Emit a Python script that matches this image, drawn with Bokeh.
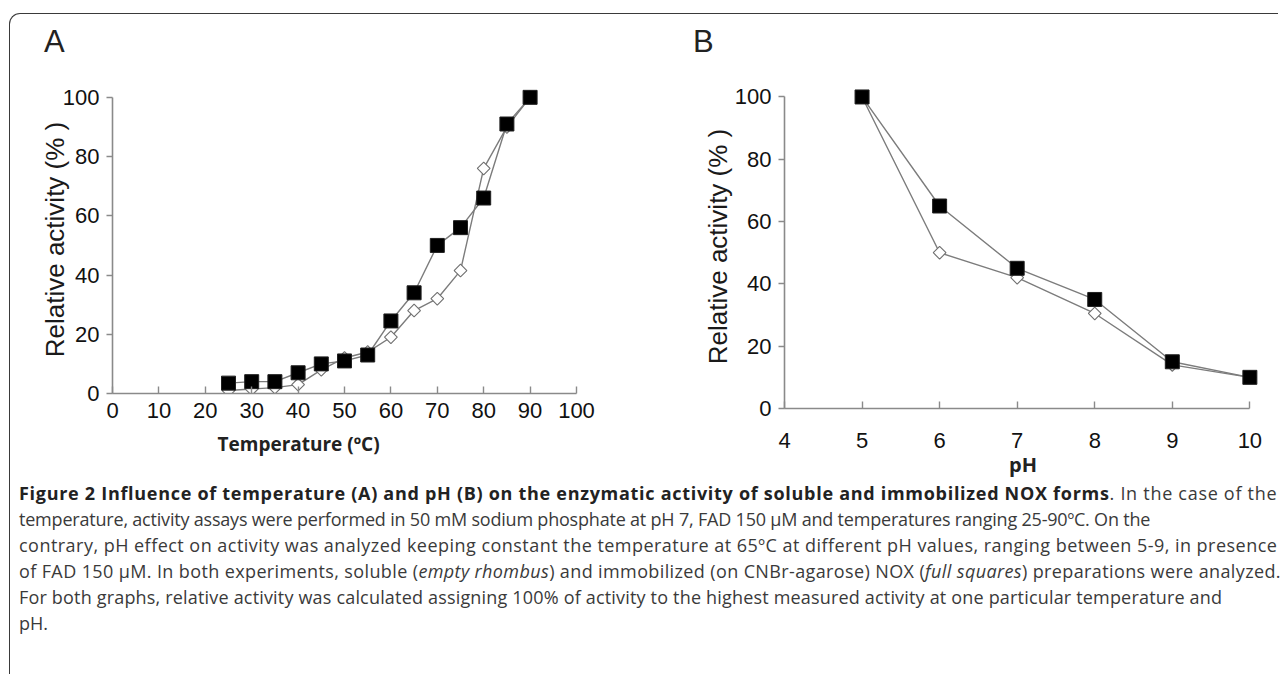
import numpy as np
from bokeh.plotting import figure
from bokeh.models import Range1d, Div, FixedTicker, Title
from bokeh.layouts import column, row
from bokeh.embed import file_html
from bokeh.resources import INLINE

# ---------------- data ----------------
temp = [25, 30, 35, 40, 45, 50, 55, 60, 65, 70, 75, 80, 85, 90]
temp_immobilized = [3.5, 4, 4, 7, 10, 11, 13, 24.5, 34, 50, 56, 66, 91, 100]
temp_soluble = [1, 1.5, 2, 3, 8, 12, 14, 19, 28, 32, 41.5, 76, 90, 100]

ph = [5, 6, 7, 8, 9, 10]
ph_immobilized = [100, 65, 45, 35, 15, 10]
ph_soluble = [100, 50, 42, 30.5, 14, 10]

temp_ticks = [0, 10, 20, 30, 40, 50, 60, 70, 80, 90, 100]
ph_ticks = [4, 5, 6, 7, 8, 9, 10]
act_ticks = [0, 20, 40, 60, 80, 100]

AX = "#8a8a8a"
LINE = "#7c7c7c"
TICKFONT = "Liberation Sans"


def style(p, xticks, yticks, xb, yb, xstand, ystand, ytitle_stand):
    p.outline_line_color = None
    p.grid.visible = False
    p.background_fill_color = "white"
    p.border_fill_color = None
    for ax in (p.xaxis[0], p.yaxis[0]):
        ax.axis_line_color = AX
        ax.axis_line_width = 1.6
        ax.major_tick_line_color = AX
        ax.major_tick_line_width = 1.4
        ax.minor_tick_line_color = None
        ax.major_label_text_font = TICKFONT
        ax.major_label_text_font_size = "22px"
        ax.major_label_text_color = "#111111"
    p.xaxis.ticker = FixedTicker(ticks=xticks)
    p.yaxis.ticker = FixedTicker(ticks=yticks)
    p.xaxis.bounds = xb
    p.yaxis.bounds = yb
    p.xaxis.major_tick_in = 7
    p.xaxis.major_tick_out = 0
    p.xaxis.major_label_standoff = xstand
    p.yaxis.major_tick_in = 0
    p.yaxis.major_tick_out = 6
    p.yaxis.major_label_standoff = ystand
    p.yaxis.axis_label = "Relative activity (% )"
    p.yaxis.axis_label_text_font = TICKFONT
    p.yaxis.axis_label_text_font_style = "normal"
    p.yaxis.axis_label_text_font_size = "26px"
    p.yaxis.axis_label_text_color = "#1a1a1a"
    p.yaxis.axis_label_standoff = ytitle_stand


def draw(p, x, sol, imm):
    p.line(x, sol, line_color=LINE, line_width=1.4)
    p.line(x, imm, line_color=LINE, line_width=1.4)
    p.scatter(x, sol, marker="square", angle=np.pi / 4, size=9,
              fill_color="white", line_color="#6f6f6f", line_width=1.1)
    p.scatter(x, imm, marker="square", size=14,
              fill_color="black", line_color="#202020", line_width=1)


# ---------------- panel letters ----------------
letters = Div(
    text=("<div style=\"position:relative;height:50px;width:1268px;"
          "font-family:'Liberation Sans';font-size:31px;color:#222;\">"
          "<span style='position:absolute;left:34px;top:6px'>A</span>"
          "<span style='position:absolute;left:683px;top:6px'>B</span></div>"),
    width=1268, height=50, margin=(0, 0, 0, 0))

# ---------------- panel A ----------------
pA = figure(width=640, height=434, x_range=Range1d(0, 100), y_range=Range1d(0, 104),
            output_backend="svg", toolbar_location=None,
            min_border_left=102, min_border_right=74,
            min_border_top=21, min_border_bottom=105)
style(pA, temp_ticks, act_ticks, (0, 100), (0, 100), 9, 7, -10)
draw(pA, temp, temp_soluble, temp_immobilized)
tA = Title(text="Temperature (ºC)", align="left", offset=105,
           text_font="Open Sans", text_font_size="19px", text_font_style="bold",
           text_color="#222222", standoff=16)
pA.add_layout(tA, "below")

# ---------------- panel B ----------------
pB = figure(width=617, height=434, x_range=Range1d(4, 10.15), y_range=Range1d(0, 104),
            output_backend="svg", toolbar_location=None,
            min_border_left=134, min_border_right=6,
            min_border_top=20, min_border_bottom=90)
style(pB, ph_ticks, act_ticks, (4, 10), (0, 100), 24, 7, -1)
draw(pB, ph, ph_soluble, ph_immobilized)
pB.xaxis.axis_label = "pH"
pB.xaxis.axis_label_text_font = "Open Sans"
pB.xaxis.axis_label_text_font_style = "bold"
pB.xaxis.axis_label_text_font_size = "20px"
pB.xaxis.axis_label_text_color = "#222222"
pB.xaxis.axis_label_standoff = 0

# ---------------- caption ----------------
caption_lines = [
    "<b style='color:#222'>Figure 2 Influence of temperature (A) and pH (B) on the enzymatic activity of soluble and immobilized NOX forms</b>. In the case of the",
    "temperature, activity assays were performed in 50 mM sodium phosphate at pH 7, FAD 150 µM and temperatures ranging 25-90ºC. On the",
    "contrary, pH effect on activity was analyzed keeping constant the temperature at 65ºC at different pH values, ranging between 5-9, in presence",
    "of FAD 150 µM. In both experiments, soluble (<i>empty rhombus</i>) and immobilized (on CNBr-agarose) NOX (<i>full squares</i>) preparations were analyzed.",
    "For both graphs, relative activity was calculated assigning 100% of activity to the highest measured activity at one particular temperature and",
    "pH.",
]
caption_spacing = [0.71, -0.20, 0.47, 0.38, 0.18, 0.0]
cap_html = ("<div style=\"font-family:'Open Sans';font-size:18px;line-height:26px;color:#3a3a3a;"
            "white-space:nowrap;margin-left:9px;\">"
            + "".join("<div style='letter-spacing:%.2fpx'>%s</div>" % (s, t)
                      for s, t in zip(caption_spacing, caption_lines))
            + "</div>")
cap = Div(text=cap_html, width=1268, height=194, margin=(0, 0, 0, 0),
          styles={"margin-top": "-18px"})

layout = column(letters, row(column(pA), column(pB)), cap,
                styles={"border-top": "1.5px solid #3a3a3a",
                        "border-left": "1.5px solid #3a3a3a",
                        "border-top-left-radius": "11px",
                        "margin-top": "13px", "margin-left": "9px"})

open("out.html", "w").write(file_html(layout, INLINE))
